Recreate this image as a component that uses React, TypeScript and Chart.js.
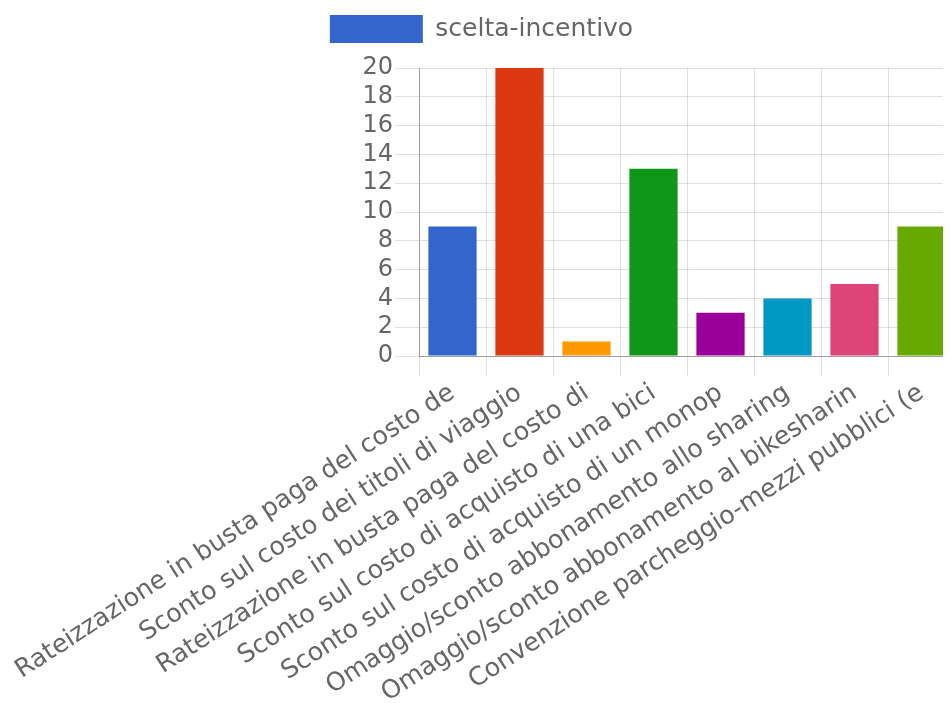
import React, { useEffect, useRef } from "react";
import { Chart, registerables } from "chart.js";

Chart.register(...registerables);

const categories = [
  "Rateizzazione in busta paga del costo de",
  "Sconto sul costo dei titoli di viaggio",
  "Rateizzazione in busta paga del costo di",
  "Sconto sul costo di acquisto di una bici",
  "Sconto sul costo di acquisto di un monop",
  "Omaggio/sconto abbonamento allo sharing",
  "Omaggio/sconto abbonamento al bikesharin",
  "Convenzione parcheggio-mezzi pubblici (e",
];
const seriesLabel = "scelta-incentivo";
const values = [9, 20, 1, 13, 3, 4, 5, 9];
const barColors = [
  "#3366cc",
  "#dc3912",
  "#ff9900",
  "#109618",
  "#990099",
  "#0099c6",
  "#dd4477",
  "#66aa00",
];
const yTicks = [0, 2, 4, 6, 8, 10, 12, 14, 16, 18, 20];

const FONT = "'DejaVu Sans', Verdana, sans-serif";

const legendGapPlugin = {
  id: "legendGap",
  afterInit(chart: any) {
    const lg = chart.legend;
    if (!lg || lg.__patched) return;
    const orig = lg.fit.bind(lg);
    lg.fit = function () {
      orig();
      this.height += 15;
    };
    lg.__patched = true;
  },
};

export default function App() {
  const ref = useRef<HTMLCanvasElement | null>(null);

  useEffect(() => {
    if (!ref.current) return;
    const chart = new Chart(ref.current, {
      type: "bar",
      data: {
        labels: categories,
        datasets: [
          {
            label: seriesLabel,
            data: values,
            backgroundColor: barColors,
            borderWidth: 0,
          },
        ],
      },
      plugins: [legendGapPlugin],
      options: {
        animation: false,
        responsive: false,
        maintainAspectRatio: false,
        layout: { padding: 0 },
        plugins: {
          tooltip: { enabled: false },
          legend: {
            display: true,
            position: "top",
            labels: {
              boxWidth: 93,
              boxHeight: 28,
              padding: 7,
              color: "#666",
              font: { family: FONT, size: 25 },
              generateLabels: () => [
                {
                  text: seriesLabel,
                  fillStyle: barColors[0],
                  strokeStyle: barColors[0],
                  lineWidth: 0,
                  hidden: false,
                  datasetIndex: 0,
                  fontColor: "#666",
                },
              ],
            },
          },
        },
        scales: {
          x: {
            grid: {
              color: "rgba(0,0,0,0.12)",
              offset: true,
              tickLength: 20,
              drawTicks: true,
            },
            border: { color: "rgba(0,0,0,0.3)" },
            afterFit: (scale: any) => {
              scale.paddingLeft = 411;
            },
            ticks: {
              color: "#666",
              font: { family: FONT, size: 25.3 },
              minRotation: 33,
              maxRotation: 33,
              autoSkip: false,
              padding: 2,
            },
          },
          y: {
            min: 0,
            max: 20,
            grid: {
              color: "rgba(0,0,0,0.12)",
              tickLength: 24,
            },
            border: { color: "rgba(0,0,0,0.3)" },
            afterBuildTicks: (scale: any) => {
              scale.ticks = yTicks.map((v) => ({ value: v }));
            },
            ticks: {
              color: "#666",
              font: { family: FONT, size: 24 },
              autoSkip: false,
              padding: 2,
            },
          },
        },
      },
    });
    return () => chart.destroy();
  }, []);

  return (
    <div style={{ width: 943, overflow: "hidden" }}>
      <canvas ref={ref} width={947} height={696} style={{ display: "block" }} />
    </div>
  );
}
